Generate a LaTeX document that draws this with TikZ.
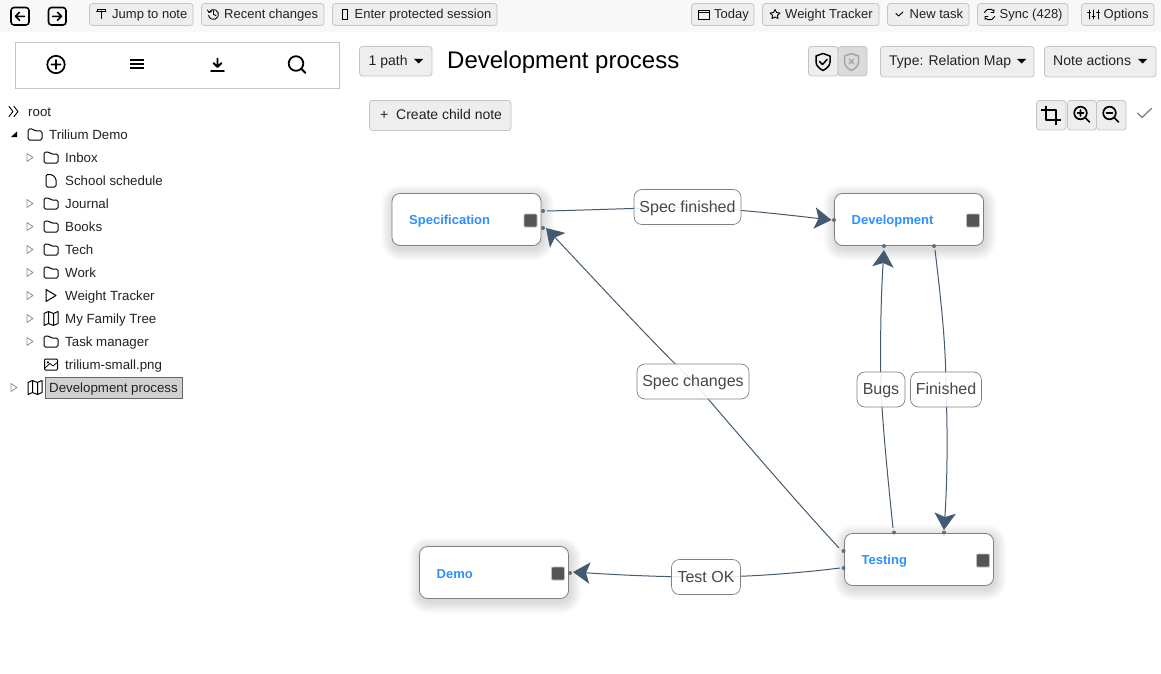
\documentclass[tikz,border=0pt]{standalone}
\usepackage{fontspec}
\setmainfont{Liberation Sans}
\usetikzlibrary{arrows.meta}
\definecolor{linkc}{HTML}{445A70}
\definecolor{dotc}{HTML}{5F6F7F}
\definecolor{barc}{HTML}{F8F8F8}
\definecolor{btnf}{HTML}{EEEEEE}
\definecolor{btnb}{HTML}{C4C4C4}
\definecolor{txt}{HTML}{222222}
\definecolor{bluet}{HTML}{2E90FF}
\tikzset{
 btnst/.style={draw=btnb,fill=btnf,line width=.8pt,rounded corners=3pt,inner sep=0pt,outer sep=0pt},
 tb/.style={text=txt,font=\fontsize{13}{15}\selectfont,anchor=west,inner sep=0pt,text height=9.5pt,text depth=2.8pt,yshift=-.7pt},
 tr/.style={tb,font=\fontsize{13.3}{15}\selectfont,yshift=-.4pt},
 hd/.style={tb,font=\fontsize{14}{16}\selectfont,yshift=-.9pt},
 ic/.style={draw=black,line width=1.1pt,line join=round,line cap=round},
 mapbox/.style={draw=black!50,fill=white,line width=.8pt,rounded corners=8pt,minimum width=149pt,minimum height=52pt,inner sep=0pt,outer sep=0pt},
 maptext/.style={text=bluet,font=\fontsize{13}{15}\selectfont\bfseries,anchor=west,inner sep=0pt,yshift=-2pt},
 lbl/.style={draw=black!50,fill=white,fill opacity=.88,text opacity=1,line width=.7pt,rounded corners=8pt,text=black!72,font=\fontsize{16}{18}\selectfont,inner sep=0pt,outer sep=0pt,minimum height=35pt,text height=12.6pt,text depth=2.4pt},
 link/.style={draw=linkc,line width=1pt},
 tip/.style={-{Stealth[length=17pt,width=21.5pt,inset=4pt,fill=linkc,line width=0pt]}},
 pin/.style={circle,fill=dotc,inner sep=0pt,minimum size=4pt},
 sq/.style={fill=black!67,draw=black!25,line width=.8pt,rounded corners=1pt,minimum size=13pt,inner sep=0pt},
 tri/.style={fill=black,draw=none},
}
\newcommand{\bn}[6][btnst]{\pgfmathsetmacro{\bw}{#5-#3}\pgfmathsetmacro{\bh}{#6-#4}\node[#1,minimum width=\bw pt,minimum height=\bh pt,anchor=north west] (#2) at (#3,#4) {};}
\newcommand{\folder}[2]{\draw[ic,line width=1pt,rounded corners=1.5pt] (#1-7,#2+6)--(#1-7,#2-5)--(#1-2,#2-5)--(#1,#2-3)--(#1+7,#2-3)--(#1+7,#2+6)--cycle;}
\newcommand{\expd}[2]{\draw[draw=black!45,line width=.7pt,line join=round] (#1-3,#2-4)--(#1+3,#2)--(#1-3,#2+4)--cycle;}
\newcommand{\mapic}[2]{\draw[ic,line width=1pt] (#1-7,#2-5)--(#1-2.5,#2-7)--(#1+2.5,#2-5)--(#1+7,#2-7)--(#1+7,#2+5)--(#1+2.5,#2+7)--(#1-2.5,#2+5)--(#1-7,#2+7)--cycle (#1-2.5,#2-7)--(#1-2.5,#2+5) (#1+2.5,#2-5)--(#1+2.5,#2+7);}
\newcommand{\mapnode}[4]{%
 \foreach \r in {12,11,...,1}{\pgfmathsetmacro{\rc}{8+\r}\fill[black,opacity=.012,rounded corners=\rc pt] (#3-74.5-\r+1,#4-26-\r+3) rectangle (#3+74.5+\r+1,#4+26+\r+3);}
 \node[mapbox] (#1) at (#3,#4) {};
 \node[maptext] (#1t) at (#3-57.5,#4-.5) {#2};
 \node[sq] (#1s) at (#3+64,#4+1) {};
}
\begin{document}
\begin{tikzpicture}[x=1pt,y=-1pt]
\useasboundingbox (0,0) rectangle (1161,674);
\fill[white] (0,0) rectangle (1161,674);
\fill[barc] (0,0) rectangle (1161,32);
% nav
\draw[ic,line width=1.6pt,rounded corners=3pt] (11,7.5) rectangle (29,25);
\draw[ic,line width=1.5pt] (24.5,16.3)--(15.5,16.3) (19.5,12.3)--(15.5,16.3)--(19.5,20.3);
\draw[ic,line width=1.6pt,rounded corners=3pt] (48.5,7.5) rectangle (66,25);
\draw[ic,line width=1.5pt] (52.5,16.3)--(61.5,16.3) (57.5,12.3)--(61.5,16.3)--(57.5,20.3);
% toolbar
\bn{b1}{89.5}{3.5}{193}{25.5}\node[tb] (t1) at (112,14.8) {Jump to note};
\draw[ic,line width=.9pt] (96.5,11)--(106,11) (97.5,11)--(97.5,9)--(105,9)--(105,11) (101,11)--(101,18.5);
\bn{b2}{201.5}{3.5}{324}{25.5}\node[tb] (t2) at (224,14.8) {Recent changes};
\draw[ic,line width=.9pt] (209,12.3) arc (-154:170:5) (213.5,11)--(213.5,14.5)--(216,15.5) (207.5,10)--(209,12.5)--(211.5,11.5);
\bn{b3}{332.5}{3.5}{497}{25.5}\node[tb] (t3) at (354.5,14.8) {Enter protected session};
\draw[ic,line width=.9pt] (342,9.5) rectangle (347.5,19);
\bn{b4}{691.5}{3.5}{754}{25.5}\node[tb] (t4) at (714,14.8) {Today};
\draw[ic,line width=.9pt] (698.5,10) rectangle (709,19) (698.5,12.5)--(709,12.5);
\bn{b5}{762.5}{3.5}{879}{25.5}\node[tb] (t5) at (785,14.8) {Weight Tracker};
\draw[ic,line width=.9pt] (775,9.5)--(776.5,12.5)--(780,13)--(777.5,15.3)--(778,18.5)--(775,17)--(772,18.5)--(772.5,15.3)--(770,13)--(773.5,12.5)--cycle;
\bn{b6}{887.5}{3.5}{969}{25.5}\node[tb] (t6) at (909.5,14.8) {New task};
\draw[ic,line width=.9pt] (896,13.5)--(898.5,16)--(903,12);
\bn{b7}{977.5}{3.5}{1068}{25.5}\node[tb] (t7) at (999.5,14.8) {Sync (428)};
\draw[ic,line width=.9pt] (984.3,12.6) arc (-160:-40:5.5) (994.7,16.4) arc (20:140:5.5) (994,9.5)--(994,12.5)--(991,12.5) (985,19.5)--(985,16.5)--(988,16.5);
\bn{b8}{1081.5}{3.5}{1154}{25.5}\node[tb] (t8) at (1103.5,14.8) {Options};
\draw[ic,line width=.9pt] (1089,10)--(1089,19) (1093.5,10)--(1093.5,19) (1098,10)--(1098,19) (1087.5,12.5)--(1090.5,12.5) (1092,16)--(1095,16) (1096.5,12.5)--(1099.5,12.5);
% side box
\node[draw=btnb,fill=white,line width=.8pt,minimum width=324pt,minimum height=45.5pt,anchor=north west,inner sep=0pt] (side) at (15.3,42.5) {};
\draw[ic,line width=1.7pt] (56,64.5) circle (8.7) (56,60)--(56,69) (51.5,64.5)--(60.5,64.5);
\draw[ic,line width=2pt,line cap=butt] (130,60.5)--(144,60.5) (130,64.5)--(144,64.5) (130,68.5)--(144,68.5);
\draw[ic,line width=1.8pt] (217.5,58.5)--(217.5,66.5) (213.5,63)--(217.5,67)--(221.5,63) (211,71)--(224,71);
\draw[ic,line width=1.8pt] (296,63.5) circle (7.3) (301.5,69)--(305.5,73);
% tree
\draw[ic,line width=.9pt] (9,106.5)--(13,111.5)--(9,116.5) (14,106.5)--(18,111.5)--(14,116.5);
\node[tr] (n0) at (28,111.8) {root};
\fill[black] (11,137)--(17,137)--(17,131.5)--cycle;
\folder{35}{134}\node[tr] (n1) at (49,134.8) {Trilium Demo};
\expd{30}{157.5}\folder{51}{157}\node[tr] (n2) at (65,157.8) {Inbox};
\draw[ic,line width=1pt,rounded corners=1.5pt] (46,174.5)--(52,174.5)--(56,178.5)--(56,187)--(46,187)--cycle;
\node[tr] (n3) at (65,180.8) {School schedule};
\expd{30}{203.5}\folder{51}{203}\node[tr] (n4) at (65,203.8) {Journal};
\expd{30}{226.5}\folder{51}{226}\node[tr] (n5) at (65,226.8) {Books};
\expd{30}{249.5}\folder{51}{249}\node[tr] (n6) at (65,249.8) {Tech};
\expd{30}{272.5}\folder{51}{272}\node[tr] (n7) at (65,272.8) {Work};
\expd{30}{295.5}\draw[ic,line width=1pt] (46,289.5)--(56,295.5)--(46,301.5)--cycle;\node[tr] (n8) at (65,295.8) {Weight Tracker};
\expd{30}{318.5}\mapic{51}{318.5}\node[tr] (n9) at (65,318.8) {My Family Tree};
\expd{30}{341.5}\folder{51}{341}\node[tr] (n10) at (65,341.8) {Task manager};
\draw[ic,line width=1pt,rounded corners=1pt] (44.5,359) rectangle (57.5,370);
\draw[ic,line width=.8pt] (45,368)--(50,363.5)--(53,366)--(57,362.5);\fill (48,362.3) circle (1.2);
\node[tr] (n11) at (65,364.8) {trilium-small.png};
\expd{14}{387.5}\mapic{35}{387.5}
\node[draw=black!60,fill=black!18,line width=.8pt,minimum width=137pt,minimum height=21pt,anchor=north west,inner sep=0pt] (sel) at (45.3,377.3) {};
\node[tr] (n12) at (49,387.8) {Development process};
% header
\bn{p1}{359.5}{46.5}{432}{76}\node[hd] (pt) at (368.5,61) {1 path};
\fill[tri] (414,59)--(423,59)--(418.5,63.5)--cycle;
\node[anchor=west,inner sep=0pt,text=black,font=\fontsize{24}{28}\selectfont,yshift=-2pt] (title) at (447,60.5) {Development process};
\bn{s1}{808.5}{46.5}{838}{76}
\node[btnst,fill=black!14,minimum width=29pt,minimum height=29.5pt,anchor=north west] (s2) at (838,46.5) {};
\draw[ic,line width=1.5pt] (823,53.5)--(830,56)--(830,62) .. controls (830,66) and (826,69) .. (823,70.5) .. controls (820,69) and (816,66) .. (816,62)--(816,56)--cycle;
\draw[ic,line width=1.5pt] (819.5,61.5)--(822.5,64.5)--(827,59.5);
\draw[ic,draw=black!35,line width=1.5pt] (851.5,53.5)--(858.5,56)--(858.5,62) .. controls (858.5,66) and (854.5,69) .. (851.5,70.5) .. controls (848.5,69) and (844.5,66) .. (844.5,62)--(844.5,56)--cycle;
\draw[ic,draw=black!35,line width=1.2pt] (849,59)--(854,64) (854,59)--(849,64);
\bn{ty}{880.5}{46.5}{1034}{77}\node[hd] (tyt) at (889,61) {Type: Relation Map};
\fill[tri] (1017,59)--(1026,59)--(1021.5,63.5)--cycle;
\bn{na}{1044.5}{46.5}{1156}{77}\node[hd] (nat) at (1053,61) {Note actions};
\fill[tri] (1138,59)--(1147,59)--(1142.5,63.5)--cycle;
\bn{cc}{369.5}{100.5}{511}{130.5}\node[hd] (cp) at (380,114.5) {+};
\node[hd] (cct) at (396,115) {Create child note};
\bn{z1}{1036.5}{100.5}{1066}{130}
\bn{z2}{1067.5}{100.5}{1096.5}{130}
\bn{z3}{1096.5}{100.5}{1126}{130}
\draw[ic,line width=2pt,line cap=butt] (1046,106)--(1046,120.5)--(1061,120.5) (1041,110.5)--(1056,110.5)--(1056,125);
\draw[ic,line width=1.7pt] (1080.5,113) circle (6.3) (1085,117.5)--(1089.5,122) (1080.5,110)--(1080.5,116) (1077.5,113)--(1083.5,113);
\draw[ic,line width=1.7pt] (1109.5,113) circle (6.3) (1114,117.5)--(1118.5,122) (1106.5,113)--(1112.5,113);
\draw[ic,draw=black!50,line width=1.3pt] (1137.5,113)--(1142,117.5)--(1151.5,108.5);
% map nodes
\mapnode{spec}{Specification}{466.5}{219.5}
\mapnode{dev}{Development}{909}{219.5}
\mapnode{test}{Testing}{919}{559.5}
\mapnode{demo}{Demo}{494}{572.5}
% pins
\node[pin] (p1a) at (543,211) {};
\node[pin] (p1b) at (543,228) {};
\node[pin] (p2a) at (834,220) {};
\node[pin] (p2b) at (884,246) {};
\node[pin] (p2c) at (934,246) {};
\node[pin] (p3a) at (894,532.5) {};
\node[pin] (p3b) at (944,532.5) {};
\node[pin] (p3c) at (843.5,551) {};
\node[pin] (p3d) at (843.5,568) {};
\node[pin] (p4a) at (570,573) {};
% links
\coordinate (l1) at (687.5,207);
\coordinate (l2) at (693,381.5);
\coordinate (l3) at (881,389.5);
\coordinate (l4) at (946,389.5);
\coordinate (l5) at (706,577);
\draw[link] (547,211) .. controls (590,210) and (640,208) .. (l1);
\draw[link,tip] (l1) .. controls (735,209) and (780,214) .. (831.5,220);
\draw[link] (839,548) .. controls (790,495) and (735,430) .. (l2);
\draw[link,tip] (l2) .. controls (650,340) and (600,285) .. (546,228);
\draw[link] (893,528) .. controls (888,480) and (883,430) .. (l3);
\draw[link,tip] (l3) .. controls (880,340) and (881,295) .. (884,250);
\draw[link] (935,250) .. controls (941,300) and (946,345) .. (l4);
\draw[link,tip] (l4) .. controls (948,440) and (947,485) .. (944,530);
\draw[link] (840,568) .. controls (800,573) and (750,577) .. (l5);
\draw[link,tip] (l5) .. controls (660,577) and (620,575) .. (573,572);
\node[lbl,minimum width=107pt] (L1) at (l1) {Spec finished};
\node[lbl,minimum width=112pt] (L2) at (l2) {Spec changes};
\node[lbl,minimum width=48pt] (L3) at (l3) {Bugs};
\node[lbl,minimum width=71pt] (L4) at (l4) {Finished};
\node[lbl,minimum width=69pt] (L5) at (l5) {Test OK};
\end{tikzpicture}
\end{document}
